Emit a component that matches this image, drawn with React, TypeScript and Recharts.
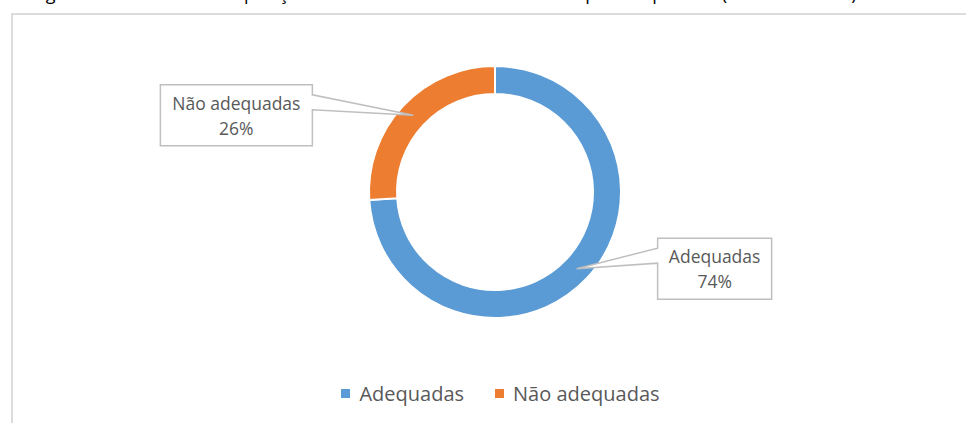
import React from "react";
import { PieChart, Pie, Cell, Legend } from "recharts";

const categories = ["Adequadas", "Não adequadas"];
const values = [74, 26];
const colors = ["#5b9bd5", "#ed7d31"];
const titleText = "Figura 7 – Análise da composição das dietas avaliadas nas escolas por tempo total (em dias letivos)";

const data = categories.map((name, i) => ({ name, value: values[i] }));

const RADIAN = Math.PI / 180;
const FONT = "'Open Sans', sans-serif";
const TEXT = "#595959";

function CalloutLabel(props: any) {
  const { cx, cy, midAngle, innerRadius, outerRadius, percent, name } = props;
  const r = (innerRadius + outerRadius) / 2;
  const tx = cx + r * Math.cos(-midAngle * RADIAN);
  const ty = cy + r * Math.sin(-midAngle * RADIAN);
  const left = tx < cx;
  const w = left ? 152 : 114;
  const h = 61;
  const top = ty - h / 2;
  const bx = left ? tx - 101 - w : tx + 81;
  const right = bx + w;
  let d: string;
  if (left) {
    d = `M${bx},${top} H${right} V${top + 10} L${tx},${ty} L${right},${top + 25} V${top + h} H${bx} Z`;
  } else {
    d = `M${bx},${top} H${right} V${top + h} H${bx} V${top + 25} L${tx},${ty} L${bx},${top + 10} Z`;
  }
  const mid = bx + w / 2;
  return (
    <g>
      <path d={d} fill="#fff" stroke="#bfbfbf" strokeWidth={1.5} />
      <text x={mid} y={top + 25} textAnchor="middle" fill={TEXT} fontSize={17.5} fontFamily={FONT}>
        {name}
      </text>
      <text x={mid} y={top + 50} textAnchor="middle" fill={TEXT} fontSize={17.5} fontFamily={FONT}>
        {`${Math.round(percent * 100)}%`}
      </text>
    </g>
  );
}

function LegendContent() {
  return (
    <div style={{ display: "flex", justifyContent: "center", gap: 31, fontFamily: FONT, fontSize: 20, color: TEXT }}>
      {categories.map((c, i) => (
        <div key={c} style={{ display: "flex", alignItems: "center" }}>
          <span style={{ width: 9, height: 9, background: colors[i], display: "inline-block", marginRight: 9 }} />
          <span>{c}</span>
        </div>
      ))}
    </div>
  );
}

export default function App() {
  return (
    <div style={{ position: "fixed", left: 0, top: 0, width: 966, height: 423, background: "#fff", overflow: "hidden" }}>
      <svg width={966} height={10} style={{ position: "absolute", left: 0, top: 0 }}>
        <text x={32} y={0} fontSize={18} fontFamily={FONT} fill="#000">{titleText}</text>
      </svg>
      <div style={{ position: "absolute", left: 11, top: 13, width: 1000, height: 440, border: "2px solid #dcdcdc", boxSizing: "border-box" }} />
      <div style={{ position: "absolute", left: 0, top: 0 }}>
        <PieChart width={1000} height={423} margin={{ top: 0, right: 0, bottom: 0, left: 0 }}>
          <Pie
            data={data}
            dataKey="value"
            nameKey="name"
            cx={495}
            cy={192}
            innerRadius={98}
            outerRadius={126}
            startAngle={90}
            endAngle={-270}
            stroke="#fff"
            strokeWidth={2}
            label={CalloutLabel}
            labelLine={false}
            isAnimationActive={false}
          >
            {data.map((d, i) => (
              <Cell key={d.name} fill={colors[i]} />
            ))}
          </Pie>
          <Legend content={<LegendContent />} wrapperStyle={{ position: "absolute", left: 0, width: 1001, top: 380 }} />
        </PieChart>
      </div>
    </div>
  );
}
